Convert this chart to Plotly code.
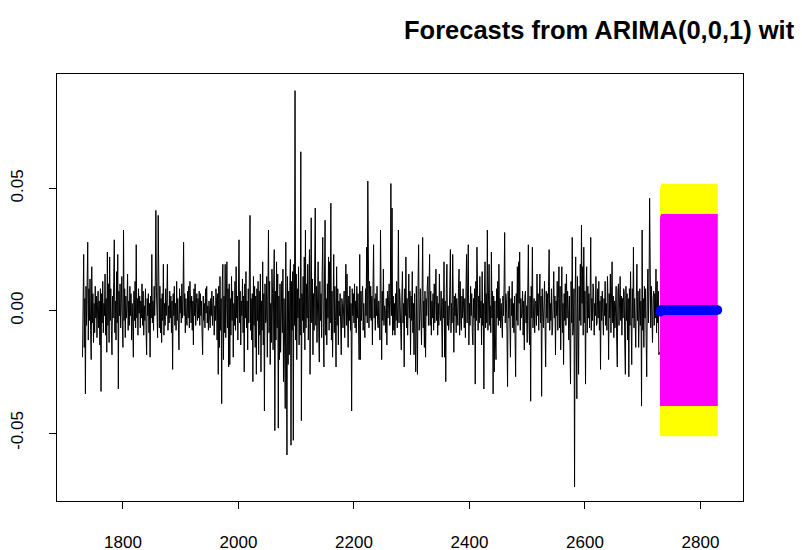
import plotly.graph_objects as go

# Observed series (values in thousandths), one value per time index starting at 1730
series_milli = [
    # 1730-1779
    -19, 8, 23, -15, 5, -34, 10, -6, 14, 28,
    -12, 9, -4, 13, -8, -20, 18, -5, 7, -13,
    3, -9, 10, -3, 6, -11, 2, 8, -7, 4,
    -14, 9, -33, 7, -5, 12, -9, 3, -2, 15,
    -10, 5, -17, 24, -6, 11, -13, 22, -4, 9,
    # 1780-1829
    -8, -18, 6, -3, 12, 29, -9, 4, -12, 16,
    -5, 23, -32, 8, -2, 11, -7, 3, 14, -6,
    -15, 33, -4, 9, -11, 6, -3, 2, 15, -8,
    4, -6, 10, -2, 7, -12, 3, -5, -19, 8,
    -4, 12, -7, 27, -3, 5, -10, 9, -1, 6,
    # 1830-1879
    -7, 4, -3, 11, -6, 8, -10, 2, -4, 9,
    -8, -18, 5, -2, 7, -9, 3, -19, 6, -3,
    23, -5, 4, -8, 10, -2, 12, 41, 8, -6,
    -11, 39, 3, -7, 10, -9, 5, -13, 7, -4,
    19, -10, 3, -6, 9, -2, 5, 19, -8, 2,
    # 1880-1929
    -5, 8, -3, 6, -9, 4, -24, 7, -2, 10,
    -6, 3, -8, 12, -4, 5, -7, -16, 9, -1,
    6, -5, 11, -3, 4, 28, -2, 7, -9, 5,
    -4, -6, 8, -3, 10, -7, 12, 2, -5, 6,
    -8, 4, -14, 9, -2, 11, -6, 3, 7, -4,
    # 1930-1979
    5, -3, 8, -6, 7, -2, 4, -9, -18, 6,
    -4, 3, -7, 9, -1, 10, -5, 2, -8, 4,
    -3, -7, 5, -2, 8, -6, 3, 6, -10, 2,
    -4, 9, 4, -12, 7, -26, 10, -15, 14, -8,
    5, -38, 12, 19, -20, 6, -9, 19, -11, 4,
    # 1980-2029
    20, -7, 9, -23, 11, -22, 5, -10, 14, -4,
    8, -19, 3, -6, 12, -8, 18, -3, 6, -12,
    10, 29, -5, 8, -14, 4, -2, 13, -9, 6,
    -25, 11, -3, 16, -7, 4, -16, 9, -5, 13,
    39, -8, 5, -12, 7, -29, 14, -6, 10, -15,
    # 2030-2079
    6, -26, 9, -4, 12, -18, 8, -10, 15, -25,
    4, -8, 20, -14, 7, -41, 11, -5, -4, 14,
    -19, 6, 33, -9, 12, -22, 3, -13, 17, 7,
    -16, 10, 25, -49, 8, -12, 20, -7, 15, -48,
    6, -20, 11, -17, 4, 12, -9, 17, -29, 5,
    # 2080-2129
    -15, -40, 28, -10, -59, 14, -22, 8, -18, 10,
    21, -55, 12, -8, 16, -53, 19, -6, 90, -12,
    15, -20, 9, -3, 18, -14, 5, -10, 65, -45,
    7, -4, 14, -9, 22, -16, 33, -7, 11, -3,
    19, -12, 8, 25, -26, 10, 38, -5, 13, -18,
    # 2130-2179
    7, -8, 15, 42, -6, 10, -13, 4, 20, -9,
    -21, 12, -4, 7, -11, 16, 30, -7, -23, 13,
    37, -10, 5, -14, 11, -3, 22, -8, 20, -5,
    44, -12, 8, -19, 6, 23, -9, 10, -4, -23,
    18, -6, 9, -14, 4, -2, 7, -10, -18, 5,
    # 2180-2229
    3, -7, -1, 8, -11, 5, 19, -6, 15, -3,
    -15, 6, -4, 10, -8, 3, -41, 9, -2, 7,
    -5, 11, -7, 4, -9, 10, -3, 7, -12, -20,
    23, -20, 8, -4, 6, 10, -8, 3, -6, -11,
    9, -2, 26, -5, 53, 4, -7, 12, -3, 10,
    # 2230-2279
    -4, 6, -14, 9, 27, -3, 5, -8, 7, -2,
    10, -5, -7, 4, -10, -12, 33, 3, -20, 8,
    -4, 17, -6, 2, 0, -9, 5, -14, 8, -3,
    7, 11, -6, 4, 52, -2, 42, -10, 6, -8,
    3, -10, 7, -4, 12, -7, 2, 33, -5, 9,
    # 2280-2329
    4, -8, -16, 6, 16, -5, 3, -23, 9, -2,
    22, -7, 5, -10, 4, 15, -3, 8, -18, 6,
    -4, 16, -9, 3, -18, 7, -11, -25, 10, -6,
    -26, 12, 27, -8, -3, 9, -5, -14, 6, 30,
    -7, 4, -15, 8, -19, 5, -2, 10, 14, -6,
    # 2330-2379
    3, 23, -6, 8, -10, 4, -3, 7, -8, 11,
    -5, 2, 17, -4, 6, -10, 3, -6, 15, -2,
    -4, 8, -7, -19, 5, -3, 20, -19, 4, -29,
    9, 19, -6, 2, -8, -4, 10, 25, -9, 3,
    -5, 23, 4, -17, 6, -2, 7, -9, 5, 1,
    # 2380-2429
    -6, 9, 17, -10, 12, -4, -8, 6, -3, 9,
    4, -7, 5, -11, 8, 23, -5, 6, 27, -14,
    3, -6, 10, -2, 7, -9, -14, 5, -3, 9,
    -30, 12, -4, 26, -2, -8, 6, -5, 14, -3,
    4, -14, 16, -6, 3, -32, 8, 20, -7, 7,
    # 2430-2479
    -5, 33, -8, 5, 19, -6, 2, -9, 24, -3,
    8, -34, 6, -25, 4, -12, -20, 9, -3, 12,
    -6, 19, -4, 5, -7, 3, -8, -11, 6, -2,
    10, 32, -5, 7, 4, -9, -31, 8, -3, 10,
    -6, -19, 5, -2, 12, -7, 3, -9, 6, -4,
    # 2480-2529
    -27, 7, -4, 18, -6, 20, 3, 24, -8, 5,
    -3, -1, 8, -10, 4, -16, 6, 8, -5, 2,
    -13, 9, 27, -4, -14, 6, -37, 10, -3, 26,
    -7, 0, 5, -9, 3, 4, -6, 15, -2, 7,
    -8, 3, 15, -5, 6, -35, 9, -1, -7, 4,
    # 2530-2579
    12, -6, -23, 8, -3, 7, -5, 10, 25, -8,
    3, -4, 9, -10, -7, 5, 16, -3, 6, -18,
    4, -2, 12, -8, 5, 18, -7, 10, -16, 4,
    18, -9, 3, -22, 7, -4, 11, -6, 15, -3,
    8, 1, -12, 6, -9, -30, 12, -5, 30, -10,
    # 2580-2629
    -7, 9, -72, 5, 22, -12, -36, 14, -8, -26,
    10, -4, 19, -6, 35, 3, 18, -10, 26, -5,
    8, -30, 6, 18, -9, 10, -3, 7, -7, 4,
    30, -8, 5, -4, 11, 8, -10, 3, -2, 14,
    -6, -5, 9, -3, 12, -8, 4, -24, 6, -4,
    # 2630-2679
    8, -3, -10, 5, -2, 12, -6, 3, -8, 14,
    4, -20, 7, -3, 15, -9, 2, 20, -5, 6,
    -11, 4, -7, 3, 10, -12, -23, 8, 11, -6,
    3, 14, -4, 6, -10, 5, -3, 9, 8, -14,
    -26, 10, -4, 7, -12, 5, -27, 9, -6, 16,
    # 2680-2729
    -4, -22, 9, -3, 26, -7, 5, -9, -15, 6,
    19, -4, 8, -15, 3, 9, -6, 4, -39, 33,
    -8, 5, -15, 10, -3, 9, -11, -27, 6, 17,
    -5, 8, 46, -2, -7, 10, -4, -13, 5, 8,
    -6, 7, -3, 17, -9, 12, -5, 8, -18, -17,
]
series_start = 1730
series = [v / 1000 for v in series_milli]
t = list(range(series_start, series_start + len(series)))

# Forecasts (ARIMA(0,0,1): first step differs, then constant)
horizon = 101
fc_t = list(range(t[-1] + 1, t[-1] + 1 + horizon))
fc_mean = [-0.0005] + [0.0003] * (horizon - 1)
lo80 = [-0.0390] + [-0.0390] * (horizon - 1)
hi80 = [0.0380] + [0.0396] * (horizon - 1)
lo95 = [-0.0510] + [-0.0513] * (horizon - 1)
hi95 = [0.0500] + [0.0519] * (horizon - 1)

x_ticks = [1800, 2000, 2200, 2400, 2600, 2800]
y_ticks = [-0.05, 0.0, 0.05]
y_tick_text = ["-0.05", "0.00", "0.05"]
title_text = "Forecasts from ARIMA(0,0,1) with non-zero mean"

FONT = "Liberation Sans, Arial, sans-serif"
OFF = 8  # page body margin offset

fig = go.Figure()
fig.add_trace(go.Scatter(x=t, y=series, mode="lines",
                         line=dict(color="black", width=1), hoverinfo="skip"))
# 95% band
fig.add_trace(go.Scatter(x=fc_t, y=lo95, mode="lines", line=dict(width=0), hoverinfo="skip"))
fig.add_trace(go.Scatter(x=fc_t, y=hi95, mode="lines", line=dict(width=0),
                         fill="tonexty", fillcolor="#FFFF00", hoverinfo="skip"))
# 80% band
fig.add_trace(go.Scatter(x=fc_t, y=lo80, mode="lines", line=dict(width=0), hoverinfo="skip"))
fig.add_trace(go.Scatter(x=fc_t, y=hi80, mode="lines", line=dict(width=0),
                         fill="tonexty", fillcolor="#FF00FF", hoverinfo="skip"))
# point forecast
fig.add_trace(go.Scatter(x=fc_t, y=fc_mean, mode="lines+markers",
                         line=dict(color="#0000FF", width=9),
                         marker=dict(color="#0000FF", size=9), hoverinfo="skip"))

W, H = 802, 550
fig.update_layout(
    width=W, height=H,
    margin=dict(l=57 - OFF, r=W - 743 + OFF, t=74 - OFF, b=H - 501 + OFF, autoexpand=False),
    paper_bgcolor="white", plot_bgcolor="white",
    showlegend=False,
    font=dict(family=FONT, color="black", size=17),
    title=dict(text="<b>" + title_text + "</b>", xref="container", yref="container",
               x=(404 - OFF) / W, xanchor="left", y=1 - (30 - OFF) / H, yanchor="middle",
               font=dict(family=FONT, size=25.5, color="black")),
)
fig.update_xaxes(range=[1685.8, 2873.7], tickvals=x_ticks, ticks="outside", ticklen=7,
                 tickcolor="black", showline=True, mirror=True, linecolor="black",
                 linewidth=1, showgrid=False, zeroline=False, automargin=False,
                 tickfont=dict(size=17), ticklabelstandoff=19)
fig.update_yaxes(range=[-0.0778, 0.0968], tickvals=y_ticks, ticktext=y_tick_text,
                 tickangle=-90, ticks="outside", ticklen=7, tickcolor="black",
                 showline=True, mirror=True, linecolor="black", linewidth=1,
                 showgrid=False, zeroline=False, automargin=False,
                 tickfont=dict(size=17), ticklabelstandoff=19)

fig.write_html("out.html")
